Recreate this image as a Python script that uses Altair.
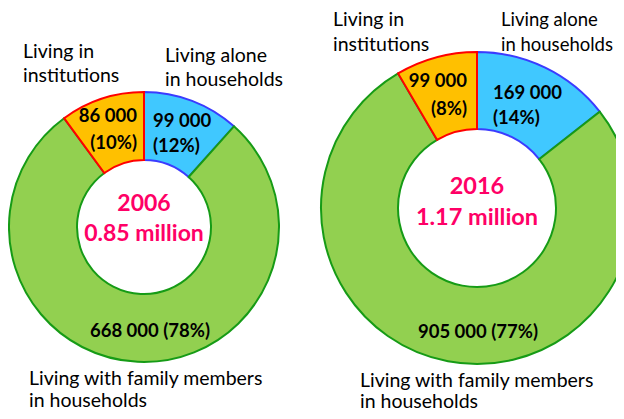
import altair as alt
import pandas as pd

# ---- data ----
categories = ["Living alone in households", "Living with family members in households", "Living in institutions"]
years = ["2006", "2016"]
values_2006 = [99000, 668000, 86000]
values_2016 = [169000, 905000, 99000]
pct_2006 = [12, 78, 10]
pct_2016 = [14, 77, 8]
totals = ["0.85 million", "1.17 million"]

fills = ["#40C8FF", "#92D050", "#FFC000"]
strokes = ["#3B3BFF", "#169B16", "#FF0000"]

rows = []
for yr, vals, pcts in [("2006", values_2006, pct_2006), ("2016", values_2016, pct_2016)]:
    for i, (c, v, p) in enumerate(zip(categories, vals, pcts)):
        rows.append({"year": yr, "cat": c, "idx": i, "value": v, "pct": p})
df = pd.DataFrame(rows)

def fmt(v):
    return f"{v:,}".replace(",", " ")

FONT = "Lato"
OFF = 8  # page margin

# donut geometry (layout)
geo = {
    "2006": dict(cx=144, cy=227, r=135, r2=67),
    "2016": dict(cx=477, cy=208, r=156, r2=79),
}

layers = []
for yr in years:
    g = geo[yr]
    arc = alt.Chart(df).transform_filter(alt.datum.year == yr).mark_arc(
        outerRadius=g["r"], innerRadius=g["r2"], strokeWidth=2
    ).encode(
        theta=alt.Theta("value:Q", stack=True),
        order=alt.Order("idx:Q"),
        color=alt.Color("cat:N", scale=alt.Scale(domain=categories, range=fills), legend=None),
        stroke=alt.Stroke("cat:N", scale=alt.Scale(domain=categories, range=strokes), legend=None),
        x=alt.value(g["cx"] - OFF),
        y=alt.value(g["cy"] - OFF),
    )
    layers.append(arc)

def txt(text, x, y, align="left", size=19.5, bold=False, color="black", lh=24):
    # y = centre of the first line (page coordinates)
    return alt.Chart(pd.DataFrame({"t": [text]})).mark_text(
        align=align, baseline="middle", font=FONT, fontSize=size,
        fontWeight="bold" if bold else "normal", color=color,
        lineBreak="\n", lineHeight=lh,
    ).encode(text="t:N", x=alt.value(x - OFF), y=alt.value(y - OFF))

lab_inst = "Living in\ninstitutions"
lab_alone = "Living alone\nin households"
lab_fam = "Living with family members\nin households"

NS = 18.5  # bold number size
texts = []
# 2006
v, p = values_2006, pct_2006
texts += [
    txt(lab_inst, 23, 52),
    txt(lab_alone, 165, 56),
    txt(f"{fmt(v[2])}\n({p[2]}%)", 137, 116, align="right", size=NS, bold=True, lh=27),
    txt(f"{fmt(v[0])}\n({p[0]}%)", 153, 121, size=NS, bold=True, lh=25),
    txt(f"{years[0]}\n{totals[0]}", 144, 204, align="center", size=23, bold=True, color="#FF0066", lh=30),
    txt(f"{fmt(v[1])} ({p[1]}%)", 150, 331, align="center", size=NS, bold=True),
    txt(lab_fam, 29, 379, lh=22),
]
# 2016
v, p = values_2016, pct_2016
texts += [
    txt(lab_inst, 333, 20, lh=25),
    txt(lab_alone, 501, 20, size=18.5, lh=25),
    txt(f"{fmt(v[2])}\n({p[2]}%)", 467, 81, align="right", size=NS, bold=True, lh=28),
    txt(f"{fmt(v[0])}\n({p[0]}%)", 493, 93, size=NS, bold=True, lh=25),
    txt(f"{years[1]}\n{totals[1]}", 477, 187, align="center", size=23.5, bold=True, color="#FF0066", lh=31),
    txt(f"{fmt(v[1])} ({p[1]}%)", 478, 332, align="center", size=NS, bold=True),
    txt(lab_fam, 360, 381, lh=21),
]

chart = alt.layer(*layers, *texts).resolve_scale(theta="independent").properties(
    width=608, height=403, autosize=alt.AutoSizeParams(type="none"), padding=0,
    background="white",
).configure_view(stroke=None)

chart.save("out.html", embed_options={"renderer": "svg", "actions": False})
